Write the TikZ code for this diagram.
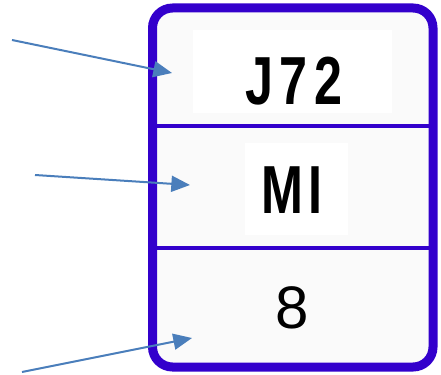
\documentclass[tikz,border=0pt]{standalone}
\usepackage{fontspec}
\newfontfamily\codefont[LetterSpace=12]{Liberation Sans}
\newfontfamily\numfont{Liberation Sans}
\usetikzlibrary{arrows.meta}
\definecolor{framePurple}{RGB}{51,0,204}
\definecolor{arrowBlue}{RGB}{74,126,187}
\definecolor{cellGray}{RGB}{250,250,250}
\newcommand{\codetext}[1]{\scalebox{0.74}[1]{\codefont\bfseries\fontsize{51}{51}\selectfont #1}}
\tikzset{
  pointer/.style={draw=arrowBlue, line width=1.5pt, -{Triangle[length=14pt,width=12pt]}, arrowBlue},
  plate/.style={fill=white, inner sep=0pt},
}
\begin{document}
\begin{tikzpicture}[x=0.75pt,y=0.75pt,yscale=-1,xscale=1]
	\path[use as bounding box] (0,0) rectangle (441,374);

	% Cells
	\fill[cellGray, rounded corners=15pt] (152.5,8) rectangle (433,367);
	\node (cellTop) [inner sep=0pt, minimum width=210pt, minimum height=88pt] at (292.5,67) {};
	\node (cellMid) [inner sep=0pt, minimum width=210pt, minimum height=88pt] at (292.5,187) {};
	\node (cellLow) [inner sep=0pt, minimum width=210pt, minimum height=88pt] at (292.5,307) {};

	% White plates
	\node (plateTop) [plate, minimum width=149.25pt, minimum height=62.25pt] at (292.5,71.5) {};
	\node (plateMid) [plate, minimum width=77.25pt, minimum height=69pt] at (296.5,189) {};

	% Text Node
	\node (j72) [inner sep=0pt, anchor=base] at (294,104) {\codetext{J72}};
	% Text Node
	\node (mi) [inner sep=0pt, anchor=base] at (292,213) {\codetext{MI}};
	% Text Node
	\node (eight) [inner sep=0pt, anchor=base, font=\numfont\fontsize{45}{45}\selectfont] at (292.5,328) {8};

	% Frame
	\draw[framePurple, line width=3.5pt] (152.5,126) -- (433,126);
	\draw[framePurple, line width=3.5pt] (152.5,248) -- (433,248);
	\draw[framePurple, line width=6.75pt, rounded corners=15pt] (152.5,8) rectangle (433,367);

	% Arrows
	\coordinate (tailTop) at (12,40);
	\coordinate (tailMid) at (35,175);
	\coordinate (tailLow) at (22,372);
	\coordinate (tipTop) at (172,73);
	\coordinate (tipMid) at (190,185);
	\coordinate (tipLow) at (192,338);
	\draw[pointer] (tailTop) -- (tipTop);
	\draw[pointer] (tailMid) -- (tipMid);
	\draw[pointer] (tailLow) -- (tipLow);
\end{tikzpicture}
\end{document}
